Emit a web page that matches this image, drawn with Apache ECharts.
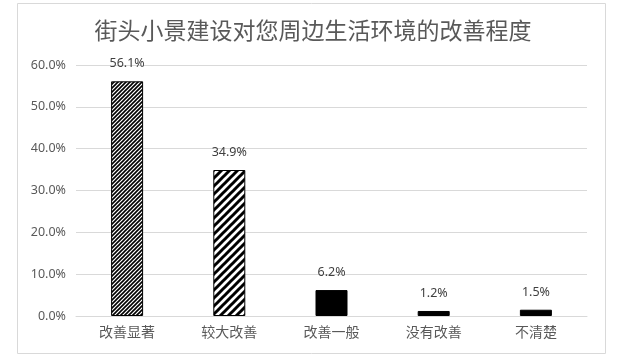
<!DOCTYPE html>
<html><head><meta charset="utf-8">
<script src="https://cdn.jsdelivr.net/npm/echarts@6/dist/echarts.min.js"></script>
<style>html,body{margin:0;padding:0;background:#fff}#c{width:626px;height:363px}</style>
</head><body><div id="c"></div>
<script>
const title = '街头小景建设对您周边生活环境的改善程度';
const categories = ['改善显著','较大改善','改善一般','没有改善','不清楚'];
const values = [56.1, 34.9, 6.2, 1.2, 1.5];
const yTicks = [0, 10, 20, 30, 40, 50, 60];

function hatch(size, lw){
  const c = document.createElement('canvas');
  c.width = size; c.height = size;
  const x = c.getContext('2d');
  x.fillStyle = '#fff'; x.fillRect(0,0,size,size);
  x.strokeStyle = '#000'; x.lineWidth = lw;
  x.beginPath();
  x.moveTo(-size, 2*size); x.lineTo(2*size, -size);
  x.moveTo(-size, size); x.lineTo(size, -size);
  x.moveTo(0, 2*size); x.lineTo(2*size, 0);
  x.stroke();
  return {image: c, repeat: 'repeat'};
}
const fills = [hatch(4, 1.6), hatch(8, 3), '#000', '#000', '#000'];

const chart = echarts.init(document.getElementById('c'));
chart.setOption({
  animation: false,
  title: {text: title, left: 'center', top: 14,
    textStyle: {fontFamily: 'Noto Sans CJK SC', fontSize: 23, fontWeight: 'normal', color: '#595959'}},
  graphic: [{type: 'rect', shape: {x: 17.5, y: 3.5, width: 588, height: 350}, silent: true,
    style: {fill: 'none', stroke: '#d9d9d9', lineWidth: 1}}],
  grid: {left: 76, right: 39, top: 65, bottom: 47},
  xAxis: {type: 'category', data: categories,
    axisLine: {lineStyle: {color: '#d9d9d9'}}, axisTick: {show: false},
    axisLabel: {fontFamily: 'Noto Sans CJK SC', fontSize: 14, color: '#595959', margin: 9}},
  yAxis: {type: 'value', min: yTicks[0], max: yTicks[yTicks.length-1], interval: 10,
    axisLine: {show: false}, axisTick: {show: false},
    splitLine: {lineStyle: {color: '#d9d9d9'}},
    axisLabel: {fontFamily: 'Noto Sans', fontSize: 12.5, color: '#595959', margin: 10,
      formatter: v => v.toFixed(1) + '%'}},
  series: [{type: 'bar', barWidth: 32,
    data: values.map((v,i) => ({value: v, itemStyle: {color: fills[i], borderColor: '#000', borderWidth: 1}})),
    label: {show: true, position: 'top', distance: 11, fontFamily: 'Noto Sans', fontSize: 12.5, color: '#404040',
      formatter: p => p.value.toFixed(1) + '%'}}]
});
</script></body></html>
